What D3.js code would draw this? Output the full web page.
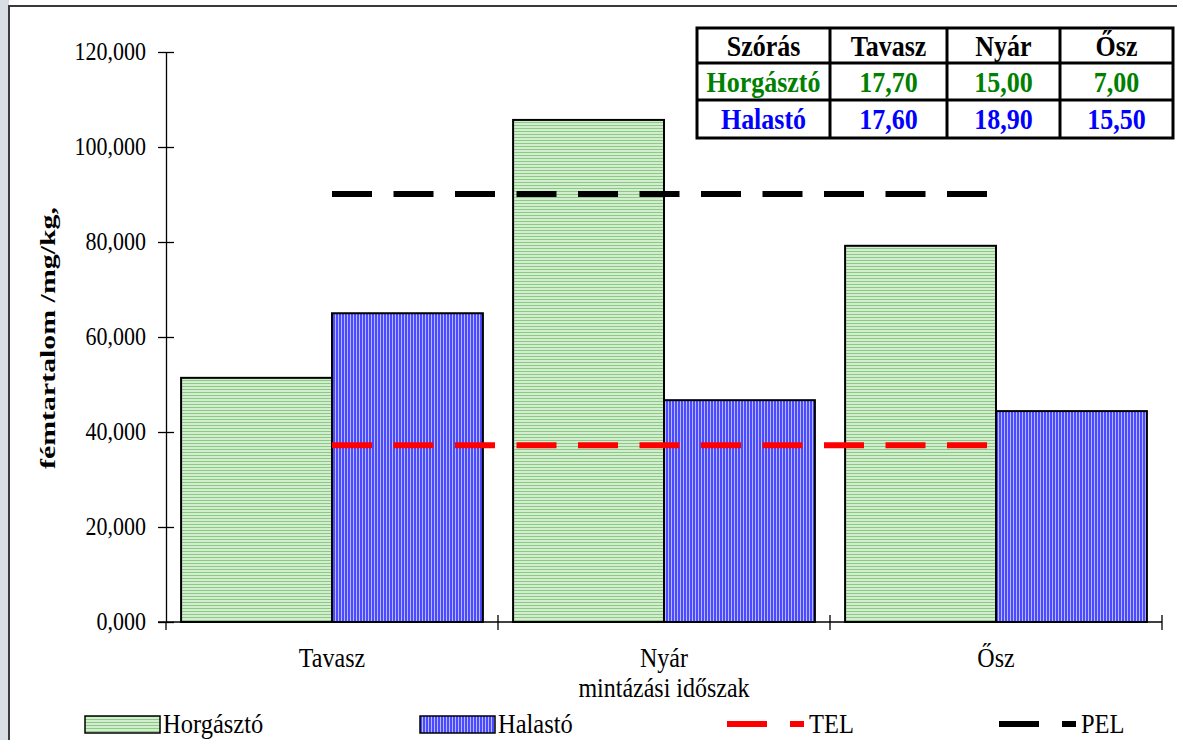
<!DOCTYPE html>
<html>
<head>
<meta charset="utf-8">
<script src="https://cdn.jsdelivr.net/npm/d3@7"></script>
<style>
  html, body { margin: 0; padding: 0; background: #ffffff; }
  svg { display: block; }
  text { font-family: "Liberation Serif", "Times New Roman", serif; }
</style>
</head>
<body>
<svg id="chart" width="1177" height="740"></svg>
<script>
// Sampling seasons and the two sampled waters
const categories = ["Tavasz", "Nyár", "Ősz"];
const seriesNames = ["Horgásztó", "Halastó"];
const horgasztoValues = [51.4, 105.7, 79.2];
const halastoValues = [65.0, 46.7, 44.4];
// Threshold levels (TEL / PEL) drawn across the seasons
const telValues = [37.2, 37.2, 37.2];
const pelValues = [90.1, 90.1, 90.1];
const yTicks = [0, 20, 40, 60, 80, 100, 120];
// Standard deviation table
const tableHeader = ["Szórás", "Tavasz", "Nyár", "Ősz"];
const sdHorgaszto = [17.70, 15.00, 7.00];
const sdHalasto = [17.60, 18.90, 15.50];

const huLocale = d3.formatLocale({ decimal: ",", thousands: " ", grouping: [3], currency: ["", " Ft"] });
const fmtTick = huLocale.format(".3f");
const fmtSd = huLocale.format(".2f");

const svg = d3.select("#chart");
const W = 1177, H = 740;
const stretch = 1.12; // slightly tall lettering

// place a text element at (x, y) with the vertical stretch applied
function placeText(sel, x, y) {
  return sel.attr("transform", (d, i) => {
    const xx = typeof x === "function" ? x(d, i) : x;
    const yy = typeof y === "function" ? y(d, i) : y;
    return `translate(${xx},${yy}) scale(1,${stretch})`;
  });
}

// outer frame
svg.append("rect").attr("x", 0).attr("y", 0).attr("width", 9).attr("height", H).attr("fill", "#d9dee4");
svg.append("line").attr("x1", 9).attr("x2", 9).attr("y1", 5).attr("y2", H)
  .attr("stroke", "#3a3a3a").attr("stroke-width", 2);
svg.append("line").attr("x1", 8).attr("x2", W).attr("y1", 6).attr("y2", 6)
  .attr("stroke", "#3a3a3a").attr("stroke-width", 2);

// fill patterns
const defs = svg.append("defs");
const pg = defs.append("pattern").attr("id", "pat-green").attr("patternUnits", "userSpaceOnUse")
  .attr("width", 6).attr("height", 3);
pg.append("rect").attr("width", 6).attr("height", 3).attr("fill", "#d3eece");
pg.append("rect").attr("y", 2).attr("width", 6).attr("height", 1).attr("fill", "#8cc886");
const pb = defs.append("pattern").attr("id", "pat-blue").attr("patternUnits", "userSpaceOnUse")
  .attr("width", 3).attr("height", 6);
pb.append("rect").attr("width", 3).attr("height", 6).attr("fill", "#4a4aff");
pb.append("rect").attr("x", 2).attr("width", 1).attr("height", 6).attr("fill", "#b8b8ff");

const fills = { "Horgásztó": "url(#pat-green)", "Halastó": "url(#pat-blue)" };

// scales
const x0 = d3.scaleBand().domain(categories).range([166, 1162]).padding(0);
const x1 = d3.scaleBand().domain(seriesNames).range([0, x0.bandwidth()]).paddingInner(0).paddingOuter(0.1);
const y = d3.scaleLinear().domain([0, 120]).range([622, 52]);

// bars
const barData = [];
categories.forEach((c, i) => {
  barData.push({ cat: c, series: "Horgásztó", value: horgasztoValues[i] });
  barData.push({ cat: c, series: "Halastó", value: halastoValues[i] });
});
svg.append("g").selectAll("rect").data(barData).join("rect")
  .attr("x", d => x0(d.cat) + x1(d.series))
  .attr("y", d => y(d.value))
  .attr("width", x1.bandwidth())
  .attr("height", d => y(0) - y(d.value))
  .attr("fill", d => fills[d.series])
  .attr("stroke", "#000").attr("stroke-width", 2);

// y axis with cross ticks
const yAxis = d3.axisLeft(y).tickValues(yTicks).tickFormat(fmtTick).tickSizeInner(8).tickSizeOuter(0).tickPadding(12);
const gy = svg.append("g").attr("transform", "translate(166,0)").call(yAxis);
gy.select(".domain").attr("stroke", "#000").attr("stroke-width", 1.3);
gy.selectAll(".tick line").attr("stroke", "#000").attr("stroke-width", 1.3).attr("x2", -8).attr("x1", 8);
gy.selectAll(".tick text").attr("font-size", 22).attr("fill", "#000")
  .attr("font-family", "Liberation Serif, Times New Roman, serif")
  .attr("transform", `scale(1,${stretch})`);

// x axis: boundaries between categories carry ticks
const xEdges = categories.map(c => x0(c)).concat([x0.range()[1]]);
svg.append("line").attr("x1", 158).attr("x2", 1162).attr("y1", y(0)).attr("y2", y(0))
  .attr("stroke", "#000").attr("stroke-width", 1.3);
svg.append("line").attr("x1", 166).attr("x2", 166).attr("y1", y(0)).attr("y2", y(0) + 8)
  .attr("stroke", "#000").attr("stroke-width", 1.3);
svg.append("g").selectAll("line").data(xEdges.slice(1)).join("line")
  .attr("x1", d => d).attr("x2", d => d).attr("y1", y(0) - 7).attr("y2", y(0) + 8)
  .attr("stroke", "#000").attr("stroke-width", 1.3);
placeText(svg.append("g").selectAll("text").data(categories).join("text"),
    d => x0(d) + x0.bandwidth() / 2, 667)
  .attr("text-anchor", "middle").attr("font-size", 24).attr("fill", "#000")
  .text(d => d);

// axis titles
placeText(svg.append("text"), 664, 697).attr("text-anchor", "middle")
  .attr("font-size", 24).attr("fill", "#000").text("mintázási időszak");
svg.append("text").attr("transform", "translate(55,338) rotate(-90)")
  .attr("text-anchor", "middle").attr("font-size", 22).attr("font-weight", "bold")
  .attr("textLength", 262).attr("lengthAdjust", "spacingAndGlyphs")
  .attr("fill", "#000").text("fémtartalom /mg/kg,");

// TEL / PEL lines through category centres
const dash = "40,21.5";
const lineGen = d3.line().x((d, i) => x0(categories[i]) + x0.bandwidth() / 2).y(d => y(d));
svg.append("path").datum(telValues).attr("d", lineGen).attr("fill", "none")
  .attr("stroke", "#ff0000").attr("stroke-width", 6).attr("stroke-dasharray", dash);
svg.append("path").datum(pelValues).attr("d", lineGen).attr("fill", "none")
  .attr("stroke", "#000000").attr("stroke-width", 6).attr("stroke-dasharray", dash);

// legend
const legend = svg.append("g");
const legendItems = [
  { type: "box", fill: fills["Horgásztó"], x: 85, label: "Horgásztó" },
  { type: "box", fill: fills["Halastó"], x: 420, label: "Halastó" },
  { type: "line", color: "#ff0000", x: 727, label: "TEL" },
  { type: "line", color: "#000000", x: 999, label: "PEL" }
];
legendItems.forEach(it => {
  if (it.type === "box") {
    legend.append("rect").attr("x", it.x).attr("y", 716).attr("width", 75).attr("height", 17)
      .attr("fill", it.fill).attr("stroke", "#000").attr("stroke-width", 1.5);
    placeText(legend.append("text"), it.x + 78, 733).attr("font-size", 24.5)
      .attr("fill", "#000").text(it.label);
  } else {
    legend.append("line").attr("x1", it.x).attr("x2", it.x + 77).attr("y1", 724).attr("y2", 724)
      .attr("stroke", it.color).attr("stroke-width", 6).attr("stroke-dasharray", "40,23");
    placeText(legend.append("text"), it.x + 82, 733).attr("font-size", 24.5)
      .attr("fill", "#000").text(it.label);
  }
});

// standard deviation table
const colX = [697, 830, 947, 1060, 1173];
const rowY = [28, 63, 100, 138];
const tbl = svg.append("g");
tbl.append("rect").attr("x", colX[0]).attr("y", rowY[0])
  .attr("width", colX[4] - colX[0]).attr("height", rowY[3] - rowY[0])
  .attr("fill", "#fff").attr("stroke", "#000").attr("stroke-width", 3);
tbl.selectAll("line.v").data(colX.slice(1, 4)).join("line").attr("class", "v")
  .attr("x1", d => d).attr("x2", d => d).attr("y1", rowY[0]).attr("y2", rowY[3])
  .attr("stroke", "#000").attr("stroke-width", 3);
tbl.selectAll("line.h").data(rowY.slice(1, 3)).join("line").attr("class", "h")
  .attr("x1", colX[0]).attr("x2", colX[4]).attr("y1", d => d).attr("y2", d => d)
  .attr("stroke", "#000").attr("stroke-width", 3);
const tableRows = [
  { cells: tableHeader, color: "#000000" },
  { cells: [seriesNames[0]].concat(sdHorgaszto.map(fmtSd)), color: "#008000" },
  { cells: [seriesNames[1]].concat(sdHalasto.map(fmtSd)), color: "#0000ff" }
];
const baselines = [56, 92, 129];
tableRows.forEach((row, r) => {
  placeText(tbl.selectAll(null).data(row.cells).join("text"),
      (d, i) => (colX[i] + colX[i + 1]) / 2, baselines[r])
    .attr("text-anchor", "middle").attr("font-size", 26).attr("font-weight", "bold")
    .attr("fill", row.color).text(d => d);
});
</script>
</body>
</html>
